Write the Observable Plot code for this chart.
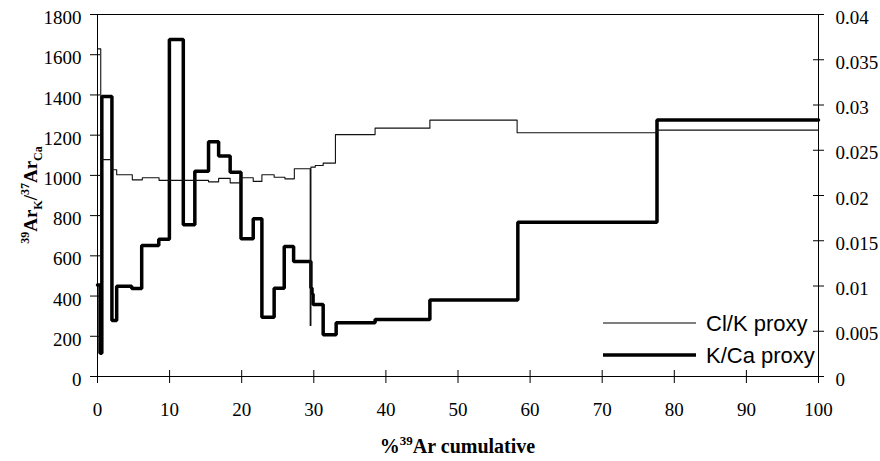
<!DOCTYPE html>
<html>
<head>
<meta charset="utf-8">
<script src="https://cdn.jsdelivr.net/npm/d3@7"></script>
<script src="https://cdn.jsdelivr.net/npm/@observablehq/plot@0.6"></script>
<style>
  html, body { margin: 0; padding: 0; background: #fff; }
</style>
</head>
<body>
<div id="chart"></div>
<script>
// ---- data ----
const xTicks = [0, 10, 20, 30, 40, 50, 60, 70, 80, 90, 100];
const yTicks = [0, 200, 400, 600, 800, 1000, 1200, 1400, 1600, 1800];
const rightTicks = [0, 0.005, 0.01, 0.015, 0.02, 0.025, 0.03, 0.035, 0.04];
const leftMax = 1800;
const rightMax = 0.04;

// K/Ca proxy (left axis): step start (% 39Ar cumulative) and value
const kcaStart = [0, 0.35, 0.6, 2.0, 2.66, 4.75, 6.13, 8.5, 9.97, 11.9, 13.5, 15.4, 16.8, 18.4, 19.9, 21.6, 22.8, 24.5, 25.9, 27.2, 29.6, 29.75, 29.9, 31.3, 33.1, 38.5, 46.1, 58.3, 77.6];
const kcaValue = [455, 115, 1392, 278, 449, 437, 651, 683, 1676, 754, 1021, 1167, 1096, 1016, 685, 784, 295, 439, 647, 572, 440, 410, 358, 207, 267, 283, 381, 767, 1276];

// Cl/K proxy (right axis): step start and value
const clkStart = [0, 0.45, 2.0, 2.66, 4.83, 6.22, 8.54, 15.4, 16.8, 18.4, 19.8, 21.6, 22.8, 24.5, 26.0, 27.3, 29.5, 29.6, 30.2, 31.3, 33.0, 38.5, 46.1, 58.2, 77.6];
const clkValue = [0.0362, 0.02396, 0.02284, 0.02229, 0.02173, 0.02196, 0.02167, 0.02151, 0.02189, 0.0214, 0.02196, 0.02156, 0.02229, 0.02202, 0.02184, 0.02296, 0.00564, 0.02313, 0.02331, 0.02358, 0.02673, 0.02744, 0.02833, 0.02693, 0.02722];

const xEnd = 100;
const SCALE = leftMax / rightMax;

const kca = kcaStart.map((x, i) => ({x, v: kcaValue[i]}));
kca.push({x: xEnd, v: kcaValue[kcaValue.length - 1]});
const clk = clkStart.map((x, i) => ({x, v: clkValue[i]}));
clk.push({x: xEnd, v: clkValue[clkValue.length - 1]});

const W = 880, H = 461;
const mL = 97, mR = 62, mT = 14, mB = 85;
const fw = W - mL - mR, fh = H - mT - mB;

const chart = Plot.plot({
  width: W, height: H,
  marginLeft: mL, marginRight: mR, marginTop: mT, marginBottom: mB,
  x: {domain: [0, 100]},
  y: {domain: [0, leftMax]},
  style: {fontFamily: "'Liberation Serif', 'Times New Roman', serif", fontSize: "19px", color: "black", background: "white"},
  marks: [
    Plot.frame({stroke: "black"}),
    Plot.axisX({ticks: xTicks, tickFormat: d => String(d), tickSize: 0, tickPadding: 26, label: null, fontSize: 19}),
    Plot.axisY({ticks: yTicks, tickFormat: d => String(d), tickSize: 0, tickPadding: 16, label: null, fontSize: 19, dy: 3.5}),
    Plot.axisY({anchor: "right", ticks: rightTicks.map(v => v * SCALE), tickFormat: d => String(+(d / SCALE).toFixed(4)), tickSize: 0, tickPadding: 17, label: null, fontSize: 19, dy: 3}),
    Plot.tickX(xTicks, {x: d => d, insetTop: fh - 6, insetBottom: -7, stroke: "black"}),
    Plot.tickY(yTicks, {y: d => d, insetLeft: -7, insetRight: fw - 3, stroke: "black"}),
    Plot.tickY(rightTicks, {y: d => d * SCALE, insetLeft: fw - 5, insetRight: -6, stroke: "black"}),
    Plot.line(kca, {x: "x", y: "v", curve: "step-after", stroke: "black", strokeWidth: 3.5, strokeLinejoin: "miter"}),
    Plot.line(clk, {x: "x", y: d => d.v * SCALE, curve: "step-after", stroke: "#111", strokeWidth: 1.1})
  ]
});

const svg = d3.select(chart);
const serif = "'Liberation Serif', 'Times New Roman', serif";
const sans = "'Liberation Sans', Arial, sans-serif";

// y-axis title
const yt = svg.append("text")
  .attr("transform", `translate(37,${mT + fh / 2}) rotate(-90)`)
  .attr("text-anchor", "middle")
  .attr("font-family", serif).attr("font-weight", "bold").attr("font-size", 19).attr("fill", "black");
yt.append("tspan").attr("font-size", 12).attr("dy", -8).text("39");
yt.append("tspan").attr("dy", 8).text("Ar");
yt.append("tspan").attr("font-size", 12).attr("dy", 5).text("K");
yt.append("tspan").attr("dy", -5).text("/");
yt.append("tspan").attr("font-size", 12).attr("dy", -8).text("37");
yt.append("tspan").attr("dy", 8).text("Ar");
yt.append("tspan").attr("font-size", 12).attr("dy", 5).text("Ca");

// x-axis title
const xt = svg.append("text")
  .attr("x", mL + fw / 2).attr("y", 453)
  .attr("text-anchor", "middle")
  .attr("font-family", serif).attr("font-weight", "bold").attr("font-size", 20).attr("fill", "black");
xt.append("tspan").text("%");
xt.append("tspan").attr("font-size", 13).attr("dy", -8).text("39");
xt.append("tspan").attr("dy", 8).text("Ar cumulative");

// legend
const legend = [
  {label: "Cl/K proxy", width: 1.1, y: 323},
  {label: "K/Ca proxy", width: 3.5, y: 355}
];
const lg = svg.append("g");
legend.forEach(l => {
  lg.append("line").attr("x1", 603).attr("x2", 696).attr("y1", l.y).attr("y2", l.y)
    .attr("stroke", "black").attr("stroke-width", l.width);
  lg.append("text").attr("x", 706).attr("y", l.y + 7.5).attr("text-anchor", "start")
    .attr("font-family", sans).attr("font-size", 22).attr("fill", "black").text(l.label);
});

document.getElementById("chart").appendChild(chart);
</script>
</body>
</html>
